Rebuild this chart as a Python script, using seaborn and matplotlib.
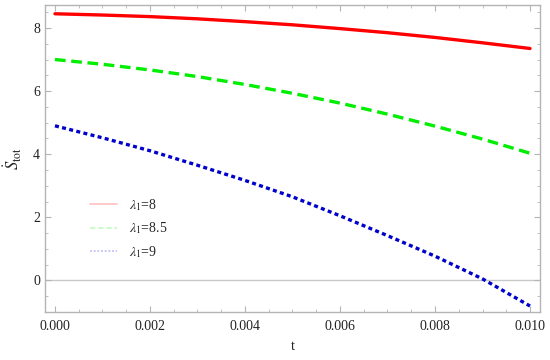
import numpy as np
import pandas as pd
import matplotlib
matplotlib.use("Agg")
import matplotlib.pyplot as plt
import matplotlib.ticker as mticker
from matplotlib.lines import Line2D
import seaborn as sns

sns.set_theme(style="ticks")
plt.rcParams["font.family"] = ["Liberation Serif", "DejaVu Serif"]
plt.rcParams["mathtext.fontset"] = "stix"

# ---- datos ----
t = [0.000, 0.001, 0.002, 0.003, 0.004, 0.005, 0.006, 0.007, 0.008, 0.009, 0.010]
s_l8 = [8.45, 8.41, 8.36, 8.29, 8.20, 8.10, 7.98, 7.85, 7.70, 7.53, 7.35]
s_l85 = [7.00, 6.85, 6.67, 6.46, 6.21, 5.93, 5.62, 5.27, 4.89, 4.48, 4.03]
s_l9 = [4.90, 4.52, 4.11, 3.65, 3.17, 2.65, 2.05, 1.42, 0.77, 0.05, -0.81]
labels = [r"$\lambda_1$=8", r"$\lambda_1$=8.5", r"$\lambda_1$=9"]

frame_col = "#b4b4b4"

fig = plt.figure(figsize=(5.5, 3.6), dpi=100)
ax = fig.add_axes([0.0818, 0.1333, 0.9, 0.853])

series = [
    (s_l8, "#ff0000", "-"),
    (s_l85, "#00ee00", (0, (3.2, 1.7))),
    (s_l9, "#0000cc", (0, (1.2, 1.0))),
]
for ys, col, ls in series:
    sns.lineplot(x=t, y=ys, ax=ax, color=col, linewidth=2.4, linestyle=ls)

ax.axhline(0, color="#c8c8c8", linewidth=1.0, zorder=0)

ax.set_xlim(-0.00021, 0.01021)
ax.set_ylim(-1.0, 8.73)
ax.xaxis.set_major_locator(mticker.MultipleLocator(0.002))
ax.xaxis.set_minor_locator(mticker.MultipleLocator(0.0005))
ax.xaxis.set_major_formatter(mticker.FormatStrFormatter("%.3f"))
ax.yaxis.set_major_locator(mticker.FixedLocator([0, 2, 4, 6, 8]))
ax.yaxis.set_minor_locator(mticker.MultipleLocator(0.5))

for sp in ax.spines.values():
    sp.set_color(frame_col)
    sp.set_linewidth(1.0)
ax.tick_params(which="both", direction="in", top=True, right=True,
               color=frame_col, labelsize=10, labelcolor="#222222")
ax.tick_params(which="major", length=4.5, width=0.8)
ax.tick_params(which="minor", length=2.5, width=0.6)
ax.tick_params(axis="x", pad=6)

ax.set_xlabel("t", fontsize=10.5, color="#222222", labelpad=5)
ax.set_ylabel(r"$\dot{S}_{\mathrm{tot}}$", fontsize=12, color="#222222")
ax.yaxis.set_label_coords(-0.042, 0.5)

handles = [Line2D([], [], color=c, linestyle=ls, linewidth=1.2, alpha=0.25)
           for _, c, ls in series]
ax.legend(handles, labels, loc="upper left", bbox_to_anchor=(0.065, 0.415),
          frameon=False, fontsize=10, handlelength=2.0, handletextpad=0.8,
          labelspacing=0.55)

plt.savefig("out.png", dpi=100)
plt.close()
